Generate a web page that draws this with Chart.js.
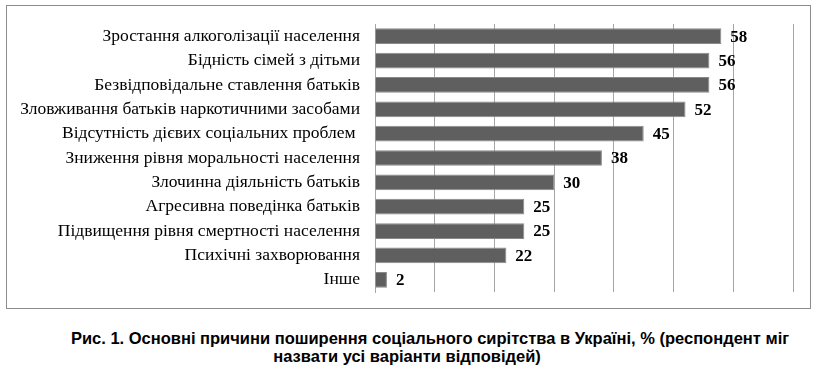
<!DOCTYPE html>
<html>
<head>
<meta charset="utf-8">
<script src="https://cdn.jsdelivr.net/npm/chart.js@4"></script>
<style>
  body { margin: 0; background: #fff; width: 822px; height: 367px; position: relative; overflow: hidden; }
  #frame { position: absolute; left: 6px; top: 5px; width: 803px; height: 302px; border: 1.5px solid #8c8c8c; }
  #chart { position: absolute; left: 7px; top: 6px; }
  .cap {
    position: absolute; width: 822px; white-space: nowrap;
    font-family: 'Liberation Sans', Arial, sans-serif; font-weight: bold; font-size: 16.5px;
    line-height: 18px; text-align: center; color: #000;
  }
</style>
</head>
<body>
<div id="frame"></div>
<canvas id="chart" width="804" height="302"></canvas>
<div class="cap" style="left:19px; top:329px;">Рис. 1. Основні причини поширення соціального сирітства в Україні, % (респондент міг</div>
<div class="cap" style="left:-4px; top:347px;">назвати усі варіанти відповідей)</div>
<script>
// Data
const categories = [
  'Зростання алкоголізації населення',
  'Бідність сімей з дітьми',
  'Безвідповідальне ставлення батьків',
  'Зловживання батьків наркотичними засобами',
  'Відсутність дієвих соціальних проблем ',
  'Зниження рівня моральності населення',
  'Злочинна діяльність батьків',
  'Агресивна поведінка батьків',
  'Підвищення рівня смертності населення',
  'Психічні захворювання',
  'Інше'
];
const values = [58, 56, 56, 52, 45, 38, 30, 25, 25, 22, 2];
const axisMax = 70;
const axisStep = 10;

const SERIF = "'Liberation Serif', 'Times New Roman', serif";

// value labels at the end of each bar
const valueLabels = {
  id: 'valueLabels',
  afterDatasetsDraw(chart) {
    const ctx = chart.ctx;
    const meta = chart.getDatasetMeta(0);
    ctx.save();
    ctx.font = 'bold 17px ' + SERIF;
    ctx.fillStyle = '#000';
    ctx.textAlign = 'left';
    ctx.textBaseline = 'middle';
    meta.data.forEach((bar, i) => {
      ctx.fillText(String(values[i]), bar.x + 9, bar.y + 1);
    });
    ctx.restore();
  }
};

new Chart(document.getElementById('chart'), {
  type: 'bar',
  data: {
    labels: categories,
    datasets: [{
      data: values,
      backgroundColor: '#5f5f5f',
      borderColor: '#8a8a8a',
      borderWidth: 1,
      categoryPercentage: 1,
      barPercentage: 0.645
    }]
  },
  options: {
    indexAxis: 'y',
    responsive: false,
    animation: false,
    layout: { padding: { top: 18, bottom: 16, right: 18, left: 0 } },
    plugins: {
      legend: { display: false },
      tooltip: { enabled: false }
    },
    scales: {
      x: {
        min: 0,
        max: axisMax,
        ticks: { display: false, stepSize: axisStep },
        grid: { color: '#a6a6a6', lineWidth: 1, drawTicks: false },
        border: { display: false },
        afterFit(scale) { scale.height = 0; }
      },
      y: {
        grid: { display: false, drawTicks: false },
        border: { display: true, color: '#a6a6a6', width: 1 },
        ticks: {
          color: '#000',
          padding: 15,
          font: { family: SERIF, size: 17.5 }
        },
        afterFit(scale) {
          scale.width = 368;
          // tick padding should not push the plot down
          scale.paddingTop = 0;
          scale.paddingBottom = 0;
        }
      }
    }
  },
  plugins: [valueLabels]
});
</script>
</body>
</html>
